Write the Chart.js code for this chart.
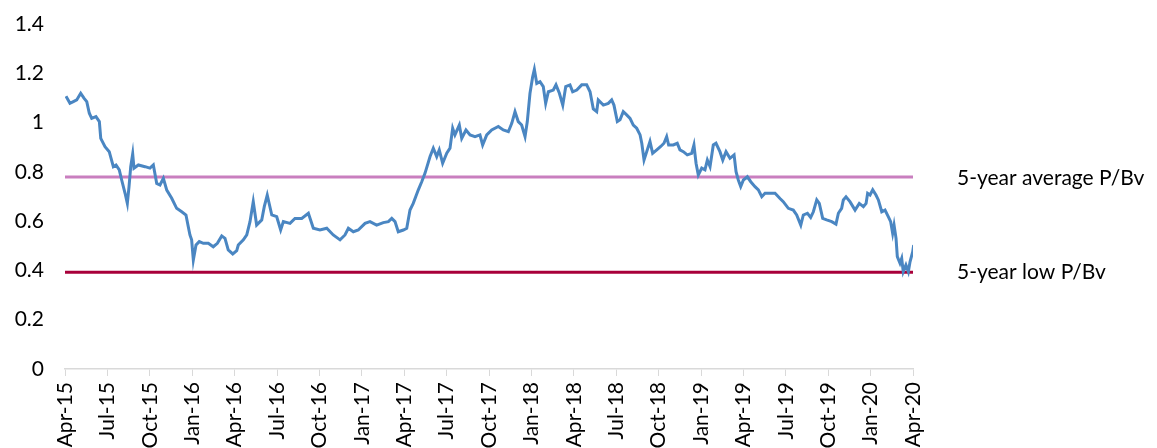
<!DOCTYPE html>
<html>
<head>
<meta charset="utf-8">
<title>P/Bv chart</title>
<script src="https://cdn.jsdelivr.net/npm/chart.js@4/dist/chart.umd.min.js"></script>
<style>
    html, body { margin: 0; padding: 0; background: #fff; overflow: hidden; }
    #wrap { position: relative; width: 1157px; height: 448px; }
</style>
</head>
<body>
<div id="wrap"><canvas id="pbvChart"></canvas></div>
<script>
    // quarter tick labels (every 3 months starting Apr-15)
    const quarterLabels = ['Apr-15', 'Jul-15', 'Oct-15', 'Jan-16', 'Apr-16', 'Jul-16', 'Oct-16', 'Jan-17',
        'Apr-17', 'Jul-17', 'Oct-17', 'Jan-18', 'Apr-18', 'Jul-18', 'Oct-18', 'Jan-19',
        'Apr-19', 'Jul-19', 'Oct-19', 'Jan-20', 'Apr-20'];

    // months since Apr-15
    const months = [0.07, 0.35, 0.59, 0.83, 1.11, 1.34, 1.54, 1.72, 1.89, 2.19, 2.43, 2.53, 2.83, 3.13, 3.42, 3.61, 3.84,
        4.01, 4.25, 4.41, 4.53, 4.65, 4.79, 4.88, 5.19, 5.66, 6.01, 6.25, 6.49, 6.72, 6.96, 7.20, 7.55, 7.90,
        8.26, 8.56, 8.72, 8.84, 8.96, 9.08, 9.27, 9.50, 9.79, 10.14, 10.49, 10.78, 11.09, 11.32, 11.55, 11.87,
        12.15, 12.26, 12.62, 12.86, 13.09, 13.32, 13.56, 13.92, 14.10, 14.31, 14.63, 14.98, 15.26, 15.45, 15.92,
        16.27, 16.75, 17.22, 17.57, 18.04, 18.52, 18.98, 19.46, 19.81, 20.05, 20.40, 20.75, 21.23, 21.58, 22.05,
        22.52, 22.88, 23.12, 23.35, 23.58, 23.94, 24.18, 24.41, 24.64, 25.00, 25.24, 25.47, 25.83, 26.06, 26.30,
        26.48, 26.72, 27.01, 27.24, 27.43, 27.59, 27.90, 28.07, 28.37, 28.66, 29.01, 29.36, 29.55, 29.84, 30.19,
        30.66, 31.01, 31.37, 31.61, 31.84, 32.07, 32.31, 32.55, 32.71, 32.90, 33.09, 33.21, 33.38, 33.61, 33.84,
        34.01, 34.20, 34.55, 34.74, 34.98, 35.22, 35.43, 35.73, 35.92, 36.21, 36.56, 36.91, 37.15, 37.38, 37.62,
        37.73, 38.09, 38.44, 38.68, 38.84, 39.08, 39.27, 39.50, 39.74, 39.98, 40.21, 40.45, 40.69, 40.81, 40.97,
        41.16, 41.39, 41.58, 41.87, 42.15, 42.38, 42.57, 42.71, 43.04, 43.32, 43.51, 43.75, 44.03, 44.34, 44.50,
        44.65, 44.81, 45.05, 45.28, 45.45, 45.64, 45.87, 46.06, 46.34, 46.54, 46.77, 47.05, 47.34, 47.48, 47.64,
        47.81, 48.00, 48.28, 48.52, 48.82, 49.06, 49.30, 49.53, 49.88, 50.24, 50.59, 50.82, 51.18, 51.53, 51.77,
        52.06, 52.24, 52.53, 52.76, 52.95, 53.19, 53.37, 53.61, 53.89, 54.25, 54.55, 54.72, 54.95, 55.07, 55.26,
        55.54, 55.90, 56.20, 56.49, 56.68, 56.79, 56.96, 57.15, 57.38, 57.55, 57.79, 58.02, 58.25, 58.42, 58.56,
        58.66, 58.80, 58.89, 59.08, 59.20, 59.31, 59.50, 59.67, 59.79, 59.98, 60.05];

    // price to book value
    const pbv = [1.107, 1.078, 1.085, 1.092, 1.119, 1.099, 1.085, 1.038, 1.017, 1.024, 1.004, 0.936, 0.902, 0.882, 0.821, 0.828, 0.808,
        0.767, 0.713, 0.672, 0.740, 0.821, 0.873, 0.815, 0.828, 0.821, 0.815, 0.828, 0.753, 0.747, 0.774, 0.726, 0.693, 0.652,
        0.638, 0.625, 0.578, 0.544, 0.524, 0.442, 0.503, 0.517, 0.510, 0.510, 0.496, 0.510, 0.540, 0.530, 0.483, 0.467,
        0.480, 0.503, 0.524, 0.544, 0.598, 0.679, 0.584, 0.605, 0.659, 0.706, 0.625, 0.618, 0.564, 0.598, 0.591,
        0.611, 0.611, 0.632, 0.571, 0.564, 0.571, 0.544, 0.524, 0.544, 0.571, 0.557, 0.564, 0.591, 0.598, 0.584,
        0.594, 0.598, 0.611, 0.598, 0.557, 0.564, 0.571, 0.645, 0.672, 0.727, 0.760, 0.794, 0.862, 0.896, 0.862,
        0.889, 0.835, 0.876, 0.896, 0.977, 0.950, 0.990, 0.936, 0.970, 0.950, 0.943, 0.950, 0.909, 0.950, 0.970,
        0.984, 0.970, 0.963, 0.997, 1.044, 1.004, 0.990, 0.943, 1.004, 1.119, 1.186, 1.216, 1.159, 1.166, 1.146,
        1.078, 1.125, 1.132, 1.153, 1.119, 1.071, 1.146, 1.153, 1.125, 1.132, 1.153, 1.153, 1.125, 1.055, 1.044,
        1.092, 1.071, 1.078, 1.092, 1.071, 1.004, 1.011, 1.044, 1.031, 1.017, 0.990, 0.977, 0.950, 0.916, 0.848,
        0.882, 0.923, 0.875, 0.889, 0.903, 0.916, 0.943, 0.909, 0.909, 0.916, 0.889, 0.882, 0.869, 0.875, 0.909,
        0.835, 0.787, 0.815, 0.808, 0.848, 0.821, 0.909, 0.916, 0.882, 0.848, 0.882, 0.855, 0.869, 0.801, 0.767,
        0.740, 0.767, 0.780, 0.760, 0.740, 0.727, 0.699, 0.713, 0.713, 0.713, 0.692, 0.679, 0.652, 0.645, 0.625,
        0.584, 0.625, 0.632, 0.615, 0.638, 0.686, 0.672, 0.611, 0.605, 0.598, 0.588, 0.632, 0.652, 0.686, 0.699,
        0.679, 0.645, 0.672, 0.659, 0.672, 0.713, 0.706, 0.727, 0.706, 0.686, 0.638, 0.645, 0.618, 0.598, 0.551,
        0.584, 0.530, 0.456, 0.429, 0.449, 0.395, 0.422, 0.395, 0.435, 0.476, 0.503];

    // reference levels
    const avgPbv = 0.779;
    const lowPbv = 0.393;
    const refLabels = ['5-year average P/Bv', '5-year low P/Bv'];

    const fontFamily = 'Lato, "Open Sans", sans-serif';

    // labels to the right of the reference lines
    const refLabelPlugin = {
        id: 'refLabels',
        afterDraw(chart) {
            const ctx = chart.ctx;
            const y = chart.scales.y;
            const x0 = chart.chartArea.right + 44;
            ctx.save();
            ctx.font = '21px ' + fontFamily;
            ctx.fillStyle = '#000';
            ctx.textBaseline = 'middle';
            ctx.textAlign = 'left';
            ctx.fillText(refLabels[0], x0, y.getPixelForValue(avgPbv) + 1);
            ctx.fillText(refLabels[1], x0, y.getPixelForValue(lowPbv));
            ctx.restore();
        }
    };

    const pbvPoints = months.map((m, i) => ({ x: m, y: pbv[i] }));

    new Chart(document.getElementById('pbvChart').getContext('2d'), {
        type: 'line',
        data: {
            datasets: [
                {
                    label: 'P/Bv',
                    data: pbvPoints,
                    borderColor: '#4a86c2',
                    borderWidth: 3,
                    pointRadius: 0,
                    tension: 0,
                    order: 0
                },
                {
                    label: refLabels[0],
                    data: [{ x: 0, y: avgPbv }, { x: 60, y: avgPbv }],
                    borderColor: '#c97fbf',
                    borderWidth: 3,
                    pointRadius: 0,
                    order: 1
                },
                {
                    label: refLabels[1],
                    data: [{ x: 0, y: lowPbv }, { x: 60, y: lowPbv }],
                    borderColor: '#a8003a',
                    borderWidth: 3,
                    pointRadius: 0,
                    order: 1
                }
            ]
        },
        options: {
            responsive: true,
            maintainAspectRatio: false,
            animation: false,
            layout: { padding: { left: 0, right: 244, top: 24, bottom: 0 } },
            plugins: {
                legend: { display: false },
                tooltip: { enabled: false }
            },
            scales: {
                x: {
                    type: 'linear',
                    min: 0,
                    max: 60,
                    afterFit: (scale) => { scale.height = 79; },
                    grid: {
                        drawOnChartArea: false,
                        drawTicks: true,
                        tickLength: 7,
                        color: '#d9d9d9'
                    },
                    border: { color: '#d9d9d9', width: 1.5 },
                    ticks: {
                        stepSize: 3,
                        autoSkip: false,
                        maxRotation: 90,
                        minRotation: 90,
                        padding: 6,
                        color: '#000',
                        font: { family: fontFamily, size: 21 },
                        callback: (v) => quarterLabels[Math.round(v / 3)]
                    }
                },
                y: {
                    min: 0,
                    max: 1.4,
                    afterFit: (scale) => {
                        scale.width = 65;
                        scale.paddingTop = 0;
                        scale.paddingBottom = 0;
                    },
                    grid: { display: false, drawTicks: false },
                    border: { display: false },
                    ticks: {
                        stepSize: 0.2,
                        padding: 21,
                        color: '#000',
                        font: { family: fontFamily, size: 21 },
                        callback: (v) => String(+v.toFixed(1))
                    }
                }
            }
        },
        plugins: [refLabelPlugin]
    });
</script>
</body>
</html>
